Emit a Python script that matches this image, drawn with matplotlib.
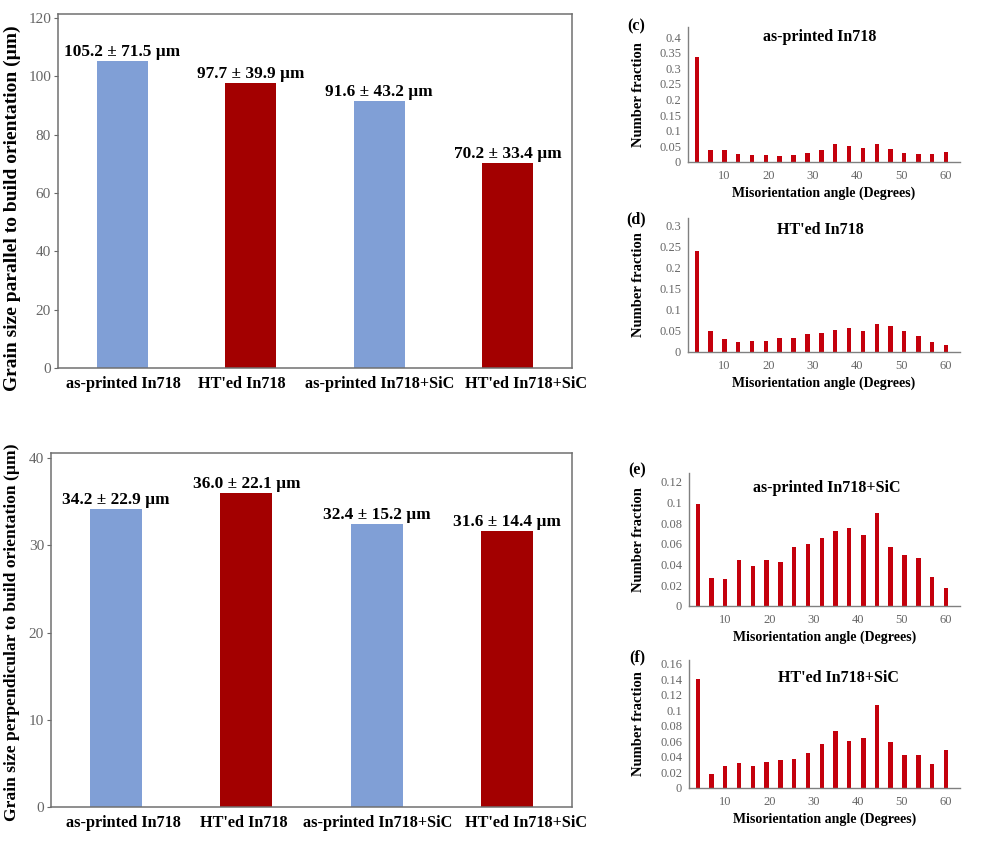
import matplotlib
matplotlib.use("Agg")
import matplotlib.pyplot as plt
from matplotlib.ticker import FuncFormatter

plt.rcParams['font.family'] = ['Liberation Serif', 'DejaVu Serif']

# ---------------- data ----------------
categories = ["as-printed In718", "HT'ed In718", "as-printed In718+SiC", "HT'ed In718+SiC"]
parallel_mean = [105.2, 97.7, 91.6, 70.2]
parallel_sd = [71.5, 39.9, 43.2, 33.4]
perp_mean = [34.2, 36.0, 32.4, 31.6]
perp_sd = [22.9, 22.1, 15.2, 14.4]

angles = [3.8, 6.9, 10.0, 13.1, 16.3, 19.4, 22.5, 25.6, 28.8, 31.9,
          35.0, 38.1, 41.3, 44.4, 47.5, 50.6, 53.8, 56.9, 60.0]
frac_as_printed = [0.336, 0.039, 0.037, 0.027, 0.023, 0.021, 0.019, 0.022, 0.029, 0.039,
                   0.058, 0.052, 0.046, 0.059, 0.042, 0.030, 0.027, 0.025, 0.033]
frac_hted = [0.240, 0.049, 0.032, 0.023, 0.027, 0.025, 0.033, 0.033, 0.043, 0.046,
             0.053, 0.058, 0.049, 0.067, 0.062, 0.051, 0.037, 0.024, 0.017]
frac_as_printed_sic = [0.098, 0.027, 0.026, 0.044, 0.039, 0.044, 0.042, 0.057, 0.060, 0.066,
                       0.072, 0.075, 0.069, 0.090, 0.057, 0.049, 0.046, 0.028, 0.017]
frac_hted_sic = [0.140, 0.018, 0.029, 0.032, 0.029, 0.033, 0.036, 0.038, 0.045, 0.057,
                 0.074, 0.060, 0.065, 0.107, 0.059, 0.043, 0.042, 0.031, 0.049]

hist_titles = ["as-printed In718", "HT'ed In718", "as-printed In718+SiC", "HT'ed In718+SiC"]
hist_panels = ["(c)", "(d)", "(e)", "(f)"]

# ---------------- layout ----------------
W, H = 984, 843
fig = plt.figure(figsize=(W / 100, H / 100), dpi=100)


def rect(l, t, r, b):
    return [l / W, 1 - b / H, (r - l) / W, (b - t) / H]


BLUE = '#809fd6'
DRED = '#a30000'
HRED = '#c4000c'
GRAY = '#666666'
bar_colors = [BLUE, DRED, BLUE, DRED]


def bar_panel(r, means, sds, ylim, yticks, ylabel, ylabel_y, ylabel_size, label_shift):
    ax = fig.add_axes(rect(*r))
    x = list(range(len(categories)))
    ax.bar(x, means, width=0.40, color=bar_colors)
    for xi, m, s in zip(x, means, sds):
        ax.annotate(f"{m:.1f} ± {s:.1f} µm", (xi, m), xytext=(0, 3.8),
                    textcoords='offset points', ha='center', va='baseline',
                    fontsize=12.4, fontweight='bold', color='black')
    ax.set_xlim(-0.5, 3.5)
    ax.set_ylim(*ylim)
    ax.set_xticks(x)
    ax.set_xticklabels([])
    # category labels (slightly offset as in the original figure)
    for xi, cat, dx in zip(x, categories, label_shift):
        ax.annotate(cat, (xi, 0), xycoords=('data', 'axes fraction'),
                    xytext=(dx * 0.72, -6), textcoords='offset points',
                    ha='center', va='top', fontsize=11.7, fontweight='bold')
    ax.set_yticks(yticks)
    ax.tick_params(axis='x', length=0)
    ax.tick_params(axis='y', length=3, width=0.8, color=GRAY, labelcolor=GRAY,
                   labelsize=11, pad=2)
    for sp in ax.spines.values():
        sp.set_color('#707070')
        sp.set_linewidth(1.1)
    fig.text(12.5 / W, 1 - ylabel_y / H, ylabel, rotation=90, ha='center', va='center',
             fontsize=ylabel_size, fontweight='bold')
    return ax


bar_panel((58, 14, 572, 368), parallel_mean, parallel_sd, (0, 121.4),
          [0, 20, 40, 60, 80, 100, 120],
          "Grain size parallel to build orientation (µm)", 208, 14.0, [1, -9, 0, 18])
bar_panel((51, 453, 572, 807), perp_mean, perp_sd, (0, 40.6),
          [0, 10, 20, 30, 40],
          "Grain size perpendicular to build orientation (µm)", 632, 12.6, [7, -3, 1, 19])

# ---------------- histograms ----------------
hist_specs = [
    ((688, 27, 960, 162), frac_as_printed, 0.432, [0, 0.05, 0.1, 0.15, 0.2, 0.25, 0.3, 0.35, 0.4], (636, 26), (820, 37)),
    ((688, 218, 960, 352), frac_hted, 0.319, [0, 0.05, 0.1, 0.15, 0.2, 0.25, 0.3], (636, 219), (820, 230)),
    ((689, 473, 960, 606), frac_as_printed_sic, 0.1284, [0, 0.02, 0.04, 0.06, 0.08, 0.1, 0.12], (637, 470), (827, 488)),
    ((689, 660, 960, 788), frac_hted_sic, 0.165, [0, 0.02, 0.04, 0.06, 0.08, 0.1, 0.12, 0.14, 0.16], (637, 657), (838, 678)),
]

fmt = FuncFormatter(lambda v, p: f"{v:g}")
for (r, vals, ytop, yt, plabel, tpos), title, panel in zip(hist_specs, hist_titles, hist_panels):
    ax = fig.add_axes(rect(*r))
    ax.bar(angles, vals, width=1.0, color=HRED)
    ax.set_xlim(1.8, 63.2)
    ax.set_ylim(0, ytop)
    ax.set_xticks([10, 20, 30, 40, 50, 60])
    ax.set_yticks(yt)
    ax.yaxis.set_major_formatter(fmt)
    ax.tick_params(length=0, labelcolor=GRAY, labelsize=9)
    ax.tick_params(axis='x', pad=6)
    ax.tick_params(axis='y', pad=5)
    for s in ('top', 'right'):
        ax.spines[s].set_visible(False)
    for s in ('left', 'bottom'):
        ax.spines[s].set_color('#808080')
        ax.spines[s].set_linewidth(1.0)
    ax.set_xlabel("Misorientation angle (Degrees)", fontsize=10, fontweight='bold', labelpad=3)
    ax.set_ylabel("Number fraction", fontsize=10.5, fontweight='bold')
    ax.yaxis.set_label_coords((645 - r[0]) / (r[2] - r[0]), 0.5)
    fig.text(tpos[0] / W, 1 - tpos[1] / H, title, ha='center', va='center',
             fontsize=11.5, fontweight='bold')
    fig.text(plabel[0] / W, 1 - plabel[1] / H, panel, ha='center', va='center',
             fontsize=11.5, fontweight='bold')

fig.savefig("out.png", dpi=100, facecolor='white')
